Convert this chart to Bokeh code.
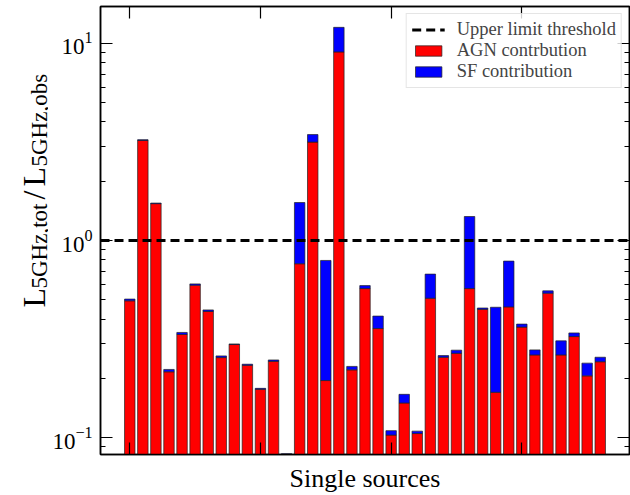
import numpy as np
from bokeh.plotting import figure
from bokeh.layouts import row
from bokeh.models import (Range1d, LinearAxis, LogAxis, Span, Label, Legend, LegendItem,
                          ColumnDataSource, FixedTicker, LogTicker, CustomJSTickFormatter)
from bokeh.embed import file_html
from bokeh.resources import INLINE

# ---- data ----
sources = list(range(37))
agn = [0.495, 3.22, 1.54, 0.216, 0.334, 0.594, 0.437, 0.255, 0.297, 0.233, 0.176, 0.244,
       0.075, 0.763, 3.16, 0.195, 9.06, 0.221, 0.571, 0.358, 0.1031, 0.150, 0.105, 0.510,
       0.256, 0.268, 0.571, 0.448, 0.170, 0.461, 0.364, 0.263, 0.541, 0.263, 0.326, 0.206,
       0.243]
sf = [0.010, 0.03, 0.01, 0.006, 0.008, 0.009, 0.008, 0.005, 0.002, 0.003, 0.002, 0.004,
      0.008, 0.797, 0.29, 0.598, 3.01, 0.009, 0.020, 0.056, 0.0055, 0.016, 0.003, 0.166,
      0.005, 0.010, 0.754, 0.007, 0.289, 0.326, 0.013, 0.016, 0.015, 0.047, 0.014, 0.033,
      0.013]
threshold = 1.0
x_ticks = [0, 10, 20, 30]
floor = 1e-3

FONT = "Liberation Serif"
H = 495
LW = 48  # width of the y-label strip

src = ColumnDataSource(dict(
    x=sources,
    agn=agn,
    base=[floor] * len(agn),
    tot=[a + s for a, s in zip(agn, sf)],
))

p = figure(width=630 - LW, height=H, y_axis_type="log",
           x_range=Range1d(-2.24, 38.24), y_range=Range1d(0.0822, 15.4),
           output_backend="svg", toolbar_location=None,
           min_border_left=100 - LW, min_border_right=1, min_border_top=6,
           min_border_bottom=41)
p.grid.visible = False
p.outline_line_color = "black"
p.outline_line_width = 1.5
p.background_fill_color = "white"
p.border_fill_color = "white"

r_agn = p.vbar(x="x", width=0.8, bottom="base", top="agn", source=src,
               fill_color="#ff0000", line_color="#222222", line_width=0.7)
r_sf = p.vbar(x="x", width=0.8, bottom="agn", top="tot", source=src,
              fill_color="#0000ff", line_color="#222222", line_width=0.7)

p.add_layout(Span(location=threshold, dimension="width", line_color="black",
                  line_width=3, line_dash="9 5"))
leg_src = ColumnDataSource(dict(x=[0.0], y=[threshold]))
r_leg = p.line(x="x", y="y", source=leg_src, line_color="black", line_width=3,
               line_dash="9 5")

blank = CustomJSTickFormatter(code="return '';")

def style_axis(ax, labels=True):
    ax.axis_line_width = 1.5
    ax.axis_line_color = "black"
    ax.major_tick_in = 12
    ax.major_tick_out = 0
    ax.minor_tick_in = 5
    ax.minor_tick_out = 0
    ax.major_tick_line_width = 1.2
    ax.minor_tick_line_width = 1.0
    ax.major_label_text_font = FONT
    if not labels:
        ax.formatter = blank
        ax.major_label_standoff = 0

yax = p.yaxis[0]
style_axis(yax)
yax.ticker = LogTicker(desired_num_ticks=3, num_minor_ticks=10)
yax.major_label_text_font_size = "23px"
yax.major_label_standoff = 8
yax.major_label_text_color = "black"

xax = p.xaxis[0]
style_axis(xax, labels=False)
xax.ticker = FixedTicker(ticks=x_ticks)
xax.minor_tick_in = 0
xax.axis_label = "Single sources"
xax.axis_label_text_font = FONT
xax.axis_label_text_font_style = "normal"
xax.axis_label_text_font_size = "26px"
xax.axis_label_standoff = 9
xax.axis_label_text_color = "black"

top = LinearAxis(ticker=FixedTicker(ticks=x_ticks))
style_axis(top, labels=False)
top.minor_tick_in = 0
p.add_layout(top, "above")

right = LogAxis(ticker=LogTicker(desired_num_ticks=3, num_minor_ticks=10))
style_axis(right, labels=False)
p.add_layout(right, "right")

legend = Legend(items=[
    LegendItem(label="Upper limit threshold", renderers=[r_leg]),
    LegendItem(label="AGN contrbution", renderers=[r_agn]),
    LegendItem(label="SF contribution", renderers=[r_sf]),
], location="top_right")
legend.label_text_font = FONT
legend.label_text_font_size = "18.5px"
legend.glyph_width = 33
legend.glyph_height = 13
legend.label_height = 21
legend.label_standoff = 12
legend.spacing = 0
legend.padding = 5
legend.margin = 7
legend.border_line_color = "#cccccc"
legend.border_line_width = 1.2
legend.background_fill_alpha = 0.8
p.add_layout(legend)

# ---- y-axis label strip (composed with subscripts) ----
lab = figure(width=LW, height=H, x_range=Range1d(0, LW), y_range=Range1d(0, H),
             output_backend="svg", toolbar_location=None,
             x_axis_location=None, y_axis_location=None, min_border=0)
lab.grid.visible = False
lab.outline_line_color = None
lab.border_fill_color = "white"
lab.background_fill_color = "white"

ang = np.pi / 2
MAIN, SUB = "32px", "23px"
xb_main, xb_sub = 33, 39
pieces = [  # (text, canvas y where text starts, baseline x, size)
    ("L", 348, xb_main, MAIN),
    ("5GHz,tot", 329, xb_sub, SUB),
    ("/", 240, xb_main, MAIN),
    ("L", 227, xb_main, MAIN),
    ("5GHz,obs", 207, xb_sub, SUB),
]
for txt, cy, xx, fs in pieces:
    lab.add_layout(Label(x=xx, y=H - cy, x_units="screen", y_units="screen", text=txt,
                         angle=ang, text_font=FONT, text_font_size=fs,
                         text_baseline="alphabetic", text_align="left",
                         text_color="black"))

layout = row(lab, p, spacing=0)
open("out.html", "w").write(file_html(layout, INLINE))
